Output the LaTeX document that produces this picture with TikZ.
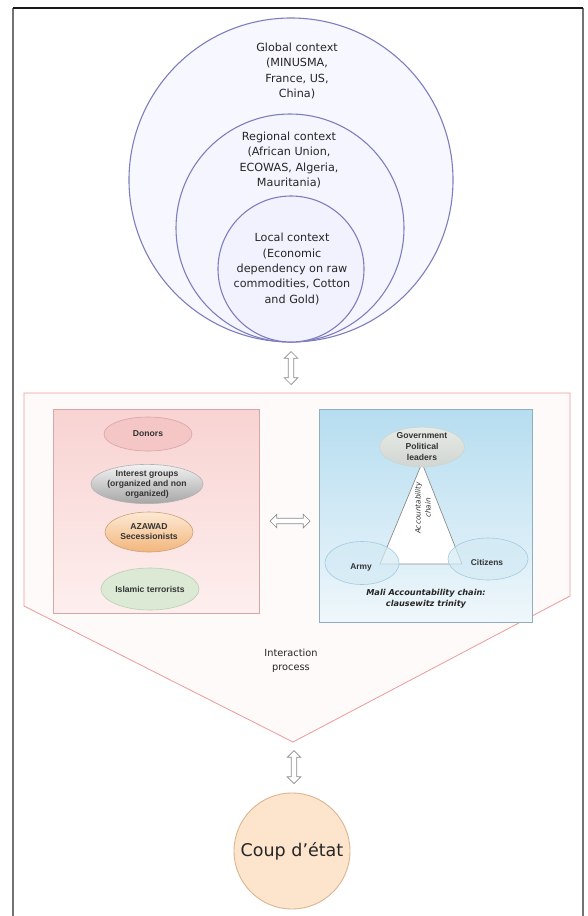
\documentclass[tikz,border=0pt]{standalone}
\usepackage{fontspec}
\setmainfont{DejaVu Sans}
\newfontfamily\lblfont{Liberation Sans}
\usetikzlibrary{shapes.geometric,shapes.arrows}
\definecolor{ringc}{HTML}{7E7EBE}
\definecolor{pentc}{HTML}{EE9A9A}
\definecolor{pinkbox}{HTML}{F8D3D2}
\definecolor{pinkboxb}{HTML}{FDEFEE}
\definecolor{pinkedge}{HTML}{D4A8A8}
\definecolor{bluebox}{HTML}{B6DDF0}
\definecolor{blueboxb}{HTML}{EFF7FB}
\definecolor{blueedge}{HTML}{8FAFC0}
\definecolor{donorf}{HTML}{F4C6C6}
\definecolor{donore}{HTML}{D9A3A3}
\definecolor{azf}{HTML}{FCE9D4}
\definecolor{azb}{HTML}{F3B67C}
\definecolor{aze}{HTML}{C9A07A}
\definecolor{islf}{HTML}{DCEAD5}
\definecolor{isle}{HTML}{B9CFB2}
\definecolor{govf}{HTML}{E6EBE6}
\definecolor{gove}{HTML}{C9D6D0}
\definecolor{armyf}{HTML}{D3EAF4}
\definecolor{armye}{HTML}{A3CBE0}
\definecolor{coupf}{HTML}{FCE4CD}
\definecolor{coupe}{HTML}{DDB58E}
\begin{document}
\begin{tikzpicture}[x=1pt,y=-1pt,
  ring/.style={circle,draw=ringc,line width=1.1pt,inner sep=0pt},
  ctxtext/.style={align=center,font=\fontsize{11.2}{15.3}\selectfont,text=black!85},
  dblarrow/.style={shape=double arrow,draw=black!45,fill=white,line width=0.7pt,
     minimum height=33pt,inner sep=2.4pt,double arrow head extend=4pt},
  actor/.style={ellipse,inner sep=0pt,minimum width=88pt,align=center,
     font=\lblfont\bfseries\fontsize{8.6}{10}\selectfont,text=black!80,line width=0.6pt},
  tri/.style={ellipse,inner sep=0pt,align=center,
     font=\lblfont\bfseries\fontsize{8.6}{11}\selectfont,text=black!80,line width=0.6pt}
]
\useasboundingbox (0,0) rectangle (587,916);
\fill[white] (0,0) rectangle (587,916);
% frame
\draw[black!55,line width=1.6pt] (13,8) -- (13,916);
\draw[black!55,line width=1.6pt] (583,8) -- (583,916);
\draw[black!90,line width=1.2pt] (13,8) -- (583,8);

% context circles
\node[ring,fill=blue!3,minimum size=324pt] (glob) at (291,180) {};
\node[ring,fill=blue!4,minimum size=228pt] (reg) at (290,228) {};
\node[ring,fill=blue!5,minimum size=146pt] (loc) at (291,269) {};
\node[ctxtext] (globt) at (297,71) {Global context\\(MINUSMA,\\France, US,\\China)};
\node[ctxtext] (regt) at (289,160) {Regional context\\(African Union,\\ECOWAS, Algeria,\\Mauritania)};
\node[ctxtext] (loct) at (292,269) {Local context\\(Economic\\dependency on raw\\commodities, Cotton\\and Gold)};

% arrow 1
\node[dblarrow,rotate=90] (arr1) at (291,368) {};

% pentagon
\coordinate (ptl) at (24,393);
\coordinate (ptr) at (570,393);
\coordinate (pr) at (570,596);
\coordinate (papex) at (293,742);
\coordinate (pl) at (24,606);
\filldraw[draw=pentc,line width=0.8pt,fill=red!2] (ptl) -- (ptr) -- (pr) -- (papex) -- (pl) -- cycle;

% pink box
\node[draw=pinkedge,line width=0.7pt,top color=pinkbox,bottom color=pinkboxb,
  minimum width=206pt,minimum height=204pt,inner sep=0pt] (pinkb) at (156,511) {};
\node[actor,draw=donore,fill=donorf,minimum height=34pt] (donors) at (148,434) {Donors};
\node[actor,draw=black!30,top color=black!5,bottom color=black!35,minimum height=38pt] (interest) at (147,484)
  {Interest groups\\(organized and non\\organized)};
\node[actor,draw=aze,top color=azf,bottom color=azb,minimum height=40pt] (azawad) at (149,532)
  {AZAWAD\\Secessionists};
\node[actor,draw=isle,fill=islf,minimum height=42pt,minimum width=90pt] (islamic) at (150,589) {Islamic terrorists};

% horizontal arrow
\node[dblarrow,minimum height=40pt] (arr2) at (290,521) {};

% blue box
\node[draw=blueedge,line width=0.7pt,top color=bluebox,bottom color=blueboxb,
  minimum width=213pt,minimum height=213pt,inner sep=0pt] (blueb) at (426,516) {};
\coordinate (ta) at (422,463);
\coordinate (tl) at (380,564);
\coordinate (tr) at (462,564);
\filldraw[draw=black!45,fill=white,line width=0.7pt] (ta) -- (tl) -- (tr) -- cycle;
\node[rotate=90,align=center,font=\itshape\fontsize{7.3}{10}\selectfont,text=black!80] (acc) at (423,508)
  {Accountability\\chain};
\node[tri,draw=gove,top color=govf,bottom color=govf!80!gray,minimum width=85pt,minimum height=38pt] (gov) at (422,447)
  {Government\\Political\\leaders};
\node[tri,draw=armye,fill=armyf,fill opacity=0.7,minimum width=74pt,minimum height=43pt] (army) at (362,563) {};
\node[tri,draw=armye,fill=armyf,fill opacity=0.7,minimum width=80pt,minimum height=42pt] (cit) at (488,559) {};
\node[font=\lblfont\bfseries\fontsize{8.4}{10}\selectfont,text=black!80] (armyt) at (361,567) {Army};
\node[font=\lblfont\bfseries\fontsize{8.4}{10}\selectfont,text=black!80] (citt) at (487,562) {Citizens};
\node[align=center,font=\bfseries\itshape\fontsize{8.2}{11}\selectfont,text=black!85] (cap) at (426,599)
  {Mali Accountability chain:\\clausewitz trinity};

% interaction
\node[align=center,font=\fontsize{9.8}{14}\selectfont,text=black!85] (inter) at (291,661) {Interaction\\process};

% arrow 3
\node[dblarrow,rotate=90] (arr3) at (294,767) {};

% coup
\node[circle,draw=coupe,fill=coupf,line width=0.9pt,minimum size=116pt,inner sep=0pt,
  font=\fontsize{17.5}{20}\selectfont,text=black!85] (coup) at (292,851) {Coup d'état};
\end{tikzpicture}
\end{document}
